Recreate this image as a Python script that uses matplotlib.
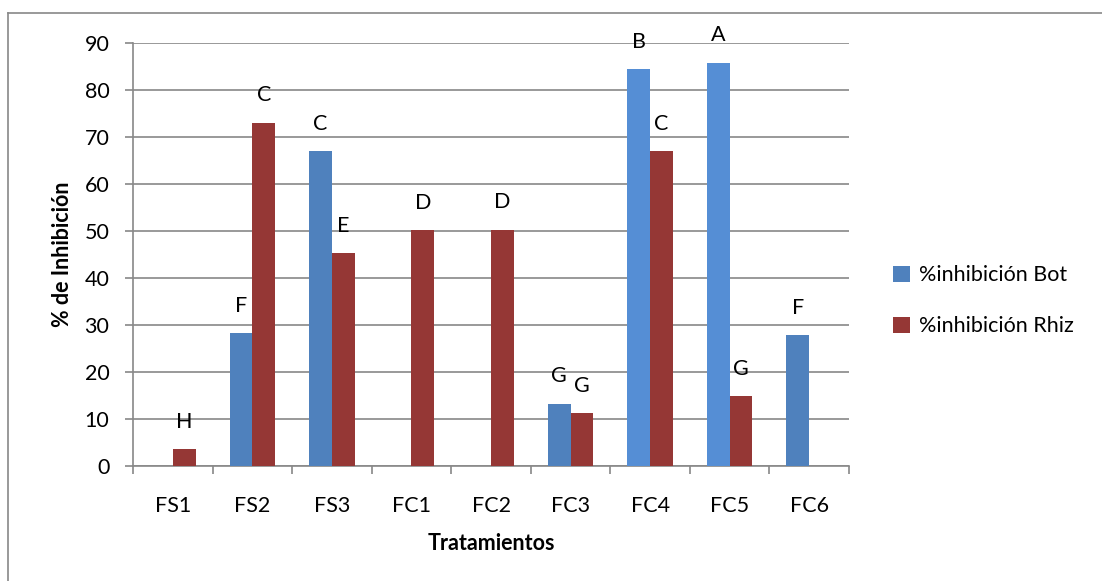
import matplotlib.pyplot as plt
import numpy as np
from matplotlib.lines import Line2D

plt.rcParams['font.family'] = ['Lato', 'DejaVu Sans']

categories = ['FS1', 'FS2', 'FS3', 'FC1', 'FC2', 'FC3', 'FC4', 'FC5', 'FC6']
bot = [0, 28.2, 67.0, 0, 0, 13.2, 84.6, 85.9, 27.8]
rhiz = [3.6, 73.1, 45.3, 50.1, 50.3, 11.2, 67.0, 14.9, 0]
bot_letters = ['', 'F', 'C', '', '', 'G', 'B', 'A', 'F']
rhiz_letters = ['H', 'C', 'E', 'D', 'D', 'G', 'C', 'G', '']

blue = '#4F81BD'
blue_light = '#558ED5'
red = '#953735'
grid_c = '#888888'
fs = 15.5


def main():
    fig = plt.figure(figsize=(11.02, 5.81), dpi=100)
    ax = fig.add_axes([133 / 1102, 1 - 465.5 / 581, (849 - 133) / 1102, (465.5 - 43.3) / 581])

    x = np.arange(len(categories))
    w = 0.286
    bot_colors = [blue_light if c in ('FC4', 'FC5') else blue for c in categories]
    ax.bar(x - w / 2, bot, w, color=bot_colors, label='%inhibición Bot', zorder=3)
    ax.bar(x + w / 2, rhiz, w, color=red, label='%inhibición Rhiz', zorder=3)

    # letras de significancia
    for xi, v, t in zip(x - w / 2, bot, bot_letters):
        if t:
            ax.annotate(t, (xi, v), xytext=(0, 19.5), textcoords='offset points',
                        ha='center', va='center', fontsize=fs)
    for xi, v, t in zip(x + w / 2, rhiz, rhiz_letters):
        if t:
            ax.annotate(t, (xi, v), xytext=(0, 19.5), textcoords='offset points',
                        ha='center', va='center', fontsize=fs)

    ax.set_xlim(-0.5, len(categories) - 0.5)
    ax.set_ylim(0, 90)
    ax.set_yticks(range(0, 91, 10))
    ax.set_xticks(x)
    ax.set_xticklabels(categories, fontsize=fs)
    ax.set_xticks(np.arange(-0.5, len(categories), 1), minor=True)
    ax.tick_params(axis='x', which='major', length=0, pad=22)
    ax.tick_params(axis='x', which='minor', length=6, color=grid_c, width=1.2)
    ax.tick_params(axis='y', length=6, color=grid_c, width=1.2, labelsize=fs, pad=11)
    ax.grid(axis='y', color=grid_c, linewidth=1.2, zorder=0)

    for s in ['top', 'right']:
        ax.spines[s].set_visible(False)
    for s in ['left', 'bottom']:
        ax.spines[s].set_color(grid_c)
        ax.spines[s].set_linewidth(1.2)

    ax.set_xlabel('Tratamientos', fontsize=fs, fontweight='bold', labelpad=12)
    ax.set_ylabel('% de Inhibición', fontsize=fs, fontweight='bold', labelpad=8)

    ax.legend(loc='center left', bbox_to_anchor=(1.035, 0.39), frameon=False,
              fontsize=fs, handlelength=0.75, handleheight=0.75, handletextpad=0.45,
              labelspacing=1.45)

    # marco del area del grafico
    fig.add_artist(Line2D([8 / 1102, 1], [1 - 13 / 581, 1 - 13 / 581], color=grid_c, lw=1.2))
    fig.add_artist(Line2D([8 / 1102, 8 / 1102], [0, 1 - 13 / 581], color=grid_c, lw=1.2))

    fig.savefig('out.png', dpi=100)


if __name__ == "__main__":
    main()
